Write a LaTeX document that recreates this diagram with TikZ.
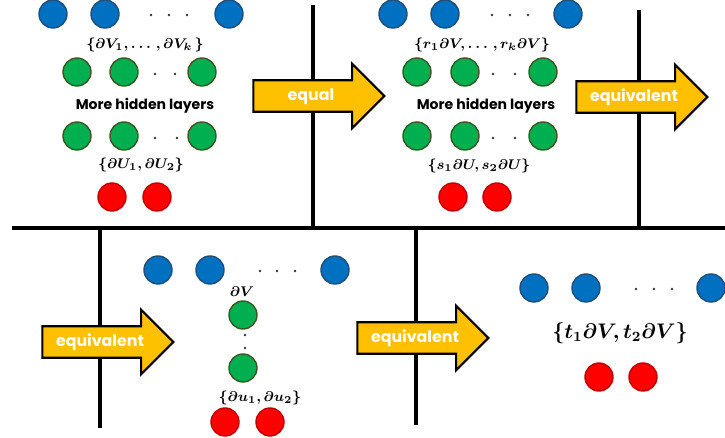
\documentclass[tikz,border=0pt]{standalone}
\usepackage[no-math]{fontspec}
\usepackage{amsmath,bm}
\newfontfamily\gothic{Poppins}
\usetikzlibrary{shapes.arrows}
\definecolor{nblue}{HTML}{0070C0}
\definecolor{nblueline}{HTML}{1F4E79}
\definecolor{ngreen}{HTML}{00B050}
\definecolor{ngreenline}{HTML}{385723}
\definecolor{nred}{HTML}{FF0000}
\definecolor{nredline}{HTML}{C00000}
\definecolor{arrowfill}{HTML}{FFC000}
\begin{document}
\begin{tikzpicture}[x=0.02cm, y=-0.02cm,
    neuron/.style = {circle, minimum size=0.56cm, inner sep=0pt, line width=0.8pt},
    blue/.style = {neuron, fill=nblue, draw=nblueline},
    green/.style = {neuron, fill=ngreen, draw=ngreenline},
    red/.style = {neuron, fill=nred, draw=nredline},
    dot/.style = {circle, fill=black!80, inner sep=0pt, minimum size=1.5pt},
    lbl/.style = {font=\footnotesize},
    hidden/.style = {font=\gothic\bfseries\footnotesize},
    bigarrow/.style = {single arrow, draw=black, line width=1.2pt, fill=arrowfill,
        text=white, font=\gothic\bfseries\small, minimum height=2.62cm,
        single arrow head extend=0.33cm, inner ysep=0.15cm, inner xsep=0pt,
        text height=1.6ex, text depth=0.3ex},
    sep/.style = {line width=2pt}]
    \useasboundingbox (0,0) rectangle (725,438);

    % linee di separazione
    \draw[sep] (313,5) -- (313,228);
    \draw[sep] (639,10) -- (639,228);
    \draw[sep] (12,228) -- (725,228);
    \draw[sep] (100,228) -- (100,428);
    \draw[sep] (416,228) -- (416,425);

    % rete 1
    \node[blue] (b1) at (53,14) {};
    \node[blue] (b2) at (105,14) {};
    \node[blue] (b3) at (229,14) {};
    \node[dot] (db1) at (151,15) {};
    \node[dot] (db2) at (169,15) {};
    \node[dot] (db3) at (187,15) {};
    \node[lbl] (lv) at (145,45) {$\bm{\{\partial V_1,\ldots\,,\partial V_k\,\}}$};
    \node[green] (g1) at (77,72) {};
    \node[green] (g2) at (124,72) {};
    \node[green] (g3) at (202,72) {};
    \node[dot] (dg1) at (155,74) {};
    \node[dot] (dg2) at (175,74) {};
    \node[hidden] (h1) at (145,106) {More hidden layers};
    \node[green] (g4) at (77,136) {};
    \node[green] (g5) at (124,136) {};
    \node[green] (g6) at (202,136) {};
    \node[dot] (dg3) at (155,138) {};
    \node[dot] (dg4) at (177,138) {};
    \node[lbl] (lu) at (141,165) {$\bm{\{\partial U_1,\partial U_2\}}$};
    \node[red] (r1) at (112,197) {};
    \node[red] (r2) at (157,197) {};

    % rete 2
    \node[blue] (b4) at (393,14) {};
    \node[blue] (b5) at (445,14) {};
    \node[blue] (b6) at (568,14) {};
    \node[dot] (db4) at (492,15) {};
    \node[dot] (db5) at (510,15) {};
    \node[dot] (db6) at (528,15) {};
    \node[lbl] (lrv) at (482,45) {$\bm{\{r_1\partial V,\ldots\,,r_k\partial V\}}$};
    \node[green] (g7) at (417,72) {};
    \node[green] (g8) at (465,72) {};
    \node[green] (g9) at (543,72) {};
    \node[dot] (dg5) at (493,74) {};
    \node[dot] (dg6) at (515,74) {};
    \node[hidden] (h2) at (486,106) {More hidden layers};
    \node[green] (g10) at (417,136) {};
    \node[green] (g11) at (465,136) {};
    \node[green] (g12) at (543,136) {};
    \node[dot] (dg7) at (493,138) {};
    \node[dot] (dg8) at (515,138) {};
    \node[lbl] (lsu) at (479,166) {$\bm{\{s_1\partial U,s_2\partial U\}}$};
    \node[red] (r3) at (453,197) {};
    \node[red] (r4) at (497,197) {};

    % rete 3
    \node[blue] (b7) at (158,270) {};
    \node[blue] (b8) at (210,270) {};
    \node[blue] (b9) at (335,270) {};
    \node[dot] (db7) at (260,271) {};
    \node[dot] (db8) at (277,271) {};
    \node[dot] (db9) at (295,271) {};
    \node[lbl] (ldv) at (242,292) {$\bm{\partial V}$};
    \node[green] (g13) at (243,315) {};
    \node[dot] (dg9) at (245,335) {};
    \node[dot] (dg10) at (245,348) {};
    \node[green] (g14) at (243,368) {};
    \node[lbl] (lsu2) at (260,398) {$\bm{\{\partial u_1,\partial u_2\}}$};
    \node[red] (r5) at (225,422) {};
    \node[red] (r6) at (270,422) {};

    % rete 4
    \node[blue] (b10) at (534,288) {};
    \node[blue] (b11) at (586,288) {};
    \node[blue] (b12) at (711,288) {};
    \node[dot] (db10) at (636,289) {};
    \node[dot] (db11) at (654,289) {};
    \node[dot] (db12) at (672,289) {};
    \node[font=\large] (lt) at (620,333) {$\bm{\{t_1\partial V,t_2\partial V\}}$};
    \node[red] (r7) at (599,377) {};
    \node[red] (r8) at (643,377) {};

    % frecce
    \node[bigarrow] (a1) at (311,96) {equal};
    \node[bigarrow] (a2) at (634,97) {equivalent};
    \node[bigarrow] (a3) at (100,342) {equivalent};
    \node[bigarrow] (a4) at (415,338) {equivalent};

\end{tikzpicture}
\end{document}
